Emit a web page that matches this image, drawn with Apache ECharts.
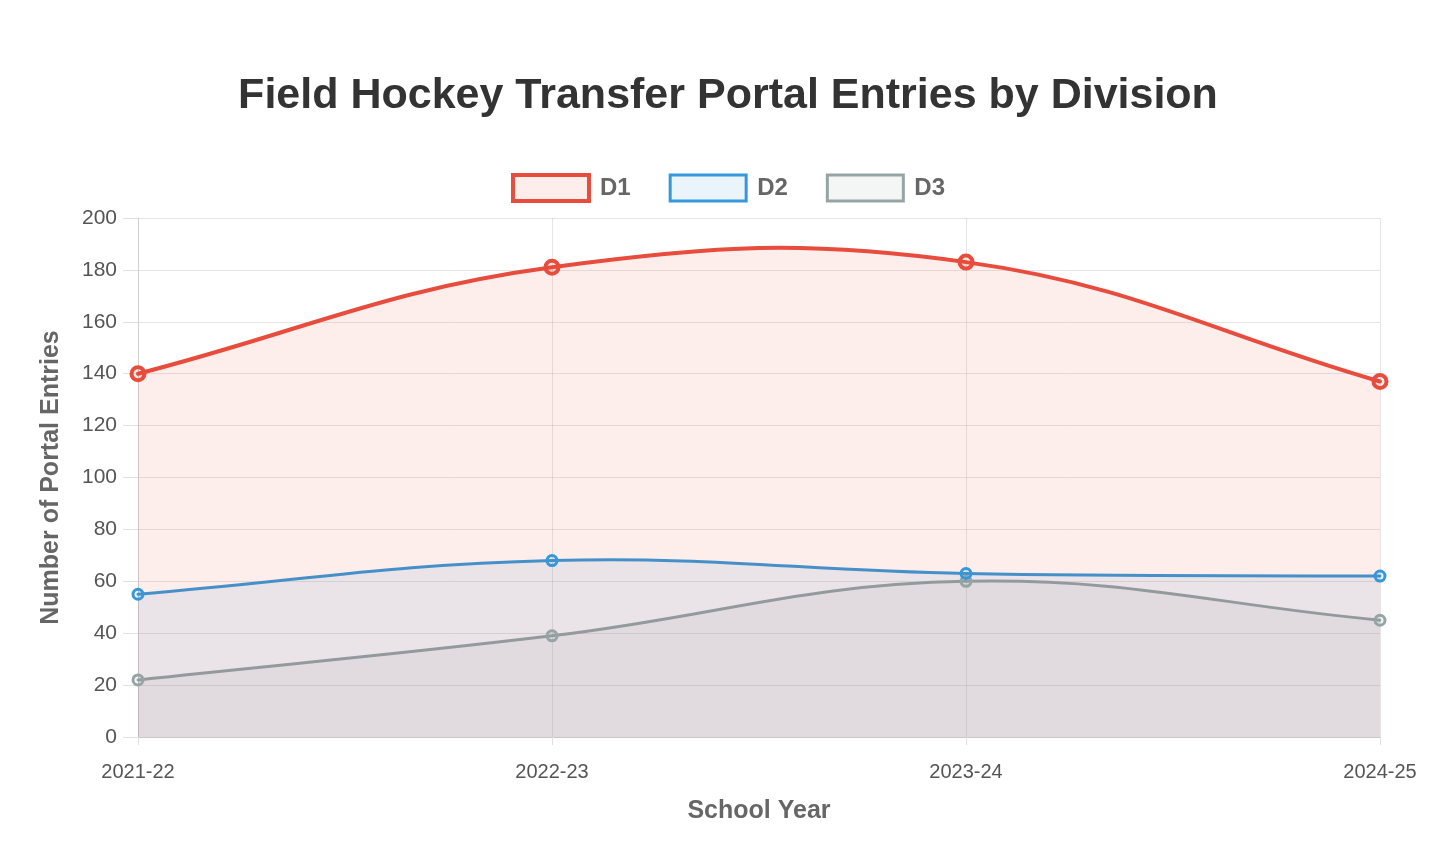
<!DOCTYPE html>
<html><head><meta charset="utf-8">
<script src="https://cdn.jsdelivr.net/npm/echarts@6/dist/echarts.min.js"></script>
<style>html,body{margin:0;padding:0;background:#fff}#c{width:1456px;height:868px}</style>
</head><body><div id="c"></div>
<script>
const categories = ['2021-22', '2022-23', '2023-24', '2024-25'];
const d1 = [140, 181, 183, 137];
const d2 = [55, 68, 63, 62];
const d3 = [22, 39, 60, 45];
const seriesNames = ['D1', 'D2', 'D3'];
const yTicks = {min: 0, max: 200, interval: 20};

const lineColors = ['#e74c3c', '#3498db', '#95a5a6'];
const fillColors = ['rgba(231,76,60,0.1)', 'rgba(52,152,219,0.1)', 'rgba(149,165,166,0.1)'];
const values = [d1, d2, d3];
const widths = [4, 3, 3];
const symSizes = [13, 10, 10];
const symBorders = [4, 3, 3];
const tension = 0.4;
const font = 'Liberation Sans, Helvetica, Arial, sans-serif';

// Chart.js-style cubic spline through pixel points
function splinePath(pts, t) {
  const n = pts.length;
  const cps = pts.map((cur, i) => {
    const prev = i > 0 ? pts[i - 1] : cur;
    const next = i < n - 1 ? pts[i + 1] : cur;
    const d01 = Math.hypot(cur[0] - prev[0], cur[1] - prev[1]);
    const d12 = Math.hypot(next[0] - cur[0], next[1] - cur[1]);
    let s01 = d01 / (d01 + d12), s12 = d12 / (d01 + d12);
    if (isNaN(s01)) s01 = 0; if (isNaN(s12)) s12 = 0;
    const fa = t * s01, fb = t * s12;
    return {
      prev: [cur[0] - fa * (next[0] - prev[0]), cur[1] - fa * (next[1] - prev[1])],
      next: [cur[0] + fb * (next[0] - prev[0]), cur[1] + fb * (next[1] - prev[1])]
    };
  });
  let d = 'M' + pts[0][0] + ' ' + pts[0][1];
  for (let i = 1; i < n; i++) {
    const a = cps[i - 1].next, b = cps[i].prev;
    d += ' C' + a[0] + ' ' + a[1] + ' ' + b[0] + ' ' + b[1] + ' ' + pts[i][0] + ' ' + pts[i][1];
  }
  return d;
}

const chart = echarts.init(document.getElementById('c'));

const curveSeries = seriesNames.map((n, i) => ({
  name: n, type: 'custom', coordinateSystem: 'cartesian2d',
  data: [[0, values[i][0]]],
  z: 2 + (seriesNames.length - i),
  silent: true,
  renderItem: (params, api) => {
    const pts = values[i].map((v, j) => api.coord([j, v]));
    const base = api.coord([0, yTicks.min])[1];
    const line = splinePath(pts, tension);
    const area = line + ' L' + pts[pts.length - 1][0] + ' ' + base + ' L' + pts[0][0] + ' ' + base + ' Z';
    return {
      type: 'group',
      children: [
        {type: 'path', shape: {pathData: area}, style: {fill: fillColors[i], stroke: null}},
        {type: 'path', shape: {pathData: line}, style: {fill: null, stroke: lineColors[i], lineWidth: widths[i], lineJoin: 'round', lineCap: 'round'}}
      ]
    };
  }
}));

const pointSeries = seriesNames.map((n, i) => ({
  name: n, type: 'line', data: values[i],
  z: 10 + (seriesNames.length - i),
  symbol: 'circle', symbolSize: symSizes[i], showSymbol: true, showAllSymbol: true,
  lineStyle: {width: 0, opacity: 0},
  itemStyle: {color: fillColors[i], borderColor: lineColors[i], borderWidth: symBorders[i], opacity: 1}
}));

chart.setOption({
  animation: false,
  title: {
    text: 'Field Hockey Transfer Portal Entries by Division',
    left: 'center', top: 70,
    textStyle: {fontFamily: font, fontSize: 43, fontWeight: 'bold', color: '#333'}
  },
  legend: {
    top: 168, left: 'center',
    itemWidth: 76, itemHeight: 26, itemGap: 38,
    icon: 'rect',
    textStyle: {fontFamily: font, fontSize: 24, fontWeight: 'bold', color: '#666', padding: [0, 0, 0, 6]},
    data: seriesNames.map((n, i) => ({
      name: n,
      icon: 'rect',
      itemStyle: {color: fillColors[i], borderColor: lineColors[i], borderWidth: symBorders[i], opacity: 1}
    }))
  },
  grid: {left: 138, right: 76, top: 218, bottom: 131, containLabel: false},
  xAxis: {
    type: 'category', data: categories, boundaryGap: false,
    name: 'School Year', nameLocation: 'middle', nameGap: 62,
    nameTextStyle: {fontFamily: font, fontSize: 25, fontWeight: 'bold', color: '#666'},
    axisLine: {lineStyle: {color: '#c8c8c8', width: 1}},
    axisTick: {show: true, length: 8, alignWithLabel: true, lineStyle: {color: '#e0e0e0'}},
    axisLabel: {fontFamily: font, fontSize: 20, color: '#555', margin: 25},
    splitLine: {show: true, lineStyle: {color: 'rgba(0,0,0,0.1)'}}
  },
  yAxis: {
    type: 'value', min: yTicks.min, max: yTicks.max, interval: yTicks.interval,
    name: 'Number of Portal Entries', nameLocation: 'middle', nameGap: 74,
    nameTextStyle: {fontFamily: font, fontSize: 25, fontWeight: 'bold', color: '#666'},
    axisLine: {show: true, lineStyle: {color: '#d0d0d0'}},
    axisTick: {show: true, length: 15, lineStyle: {color: '#e0e0e0'}},
    axisLabel: {fontFamily: font, fontSize: 21, color: '#555', margin: 21},
    splitLine: {show: true, lineStyle: {color: 'rgba(0,0,0,0.1)'}}
  },
  series: curveSeries.concat(pointSeries)
});
</script></body></html>
